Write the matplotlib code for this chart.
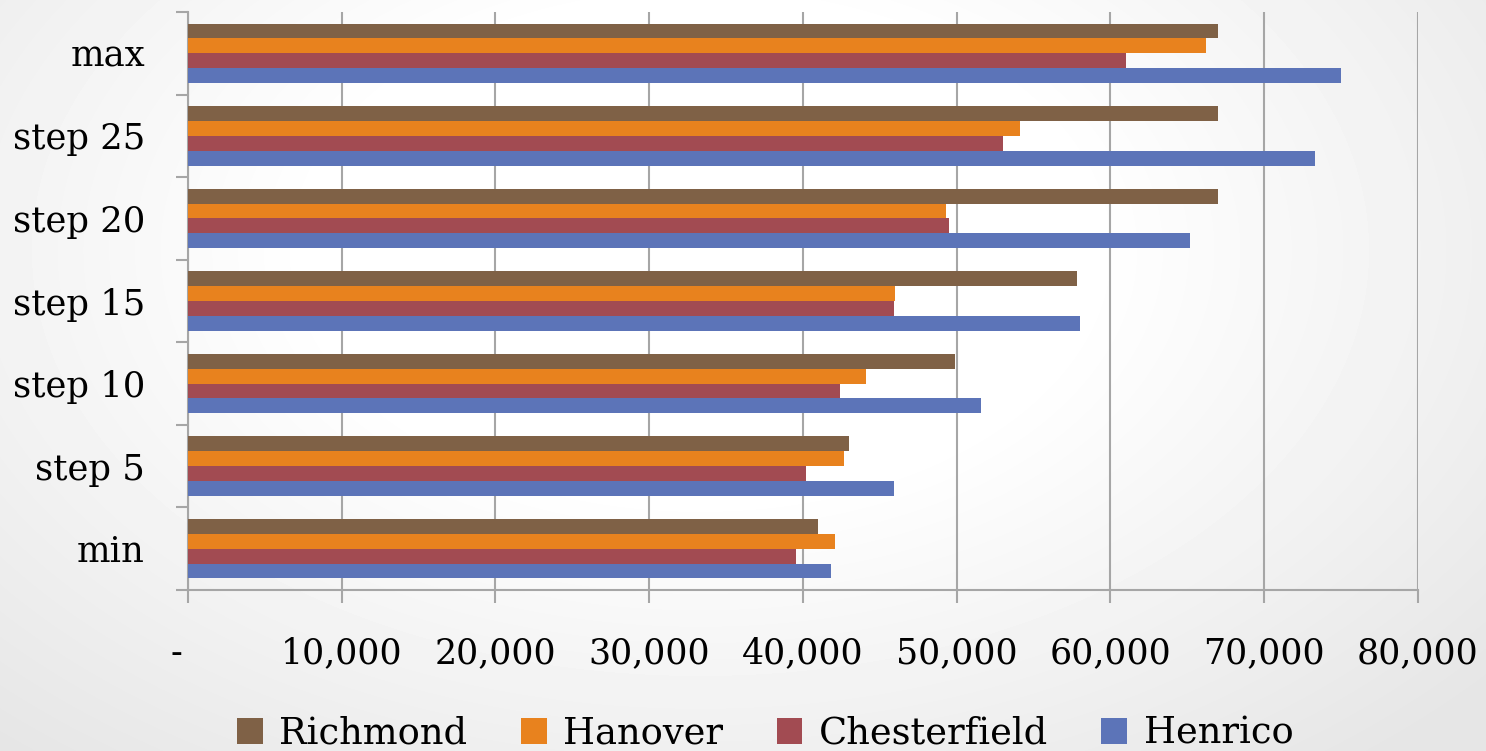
import numpy as np
import matplotlib
matplotlib.use('agg')
import matplotlib.pyplot as plt
from matplotlib.ticker import FixedLocator, FuncFormatter

categories = ['min', 'step 5', 'step 10', 'step 15', 'step 20', 'step 25', 'max']
richmond = [41000, 43000, 49900, 57800, 67000, 67000, 67000]
hanover = [42100, 42700, 44100, 46000, 49300, 54100, 66200]
chesterfield = [39550, 40200, 42400, 45900, 49500, 53000, 61000]
henrico = [41800, 45900, 51600, 58000, 65200, 73300, 75000]

series_names = ['Richmond', 'Hanover', 'Chesterfield', 'Henrico']
series_values = [richmond, hanover, chesterfield, henrico]
colors = ['#7f6146', '#e8821e', '#a24b52', '#5c74b8']

plt.rcParams['font.family'] = ['DejaVu Serif']

fig = plt.figure(figsize=(14.86, 7.51), dpi=100)

# soft radial background like the slide
bg = fig.add_axes([0, 0, 1, 1], zorder=-10)
yy, xx = np.mgrid[0:751, 0:1486]
r = np.sqrt(((xx - 700) / 1100.0) ** 2 + ((yy - 250) / 700.0) ** 2)
shade = 1.0 - 0.10 * np.clip(r - 0.35, 0, None) / 0.6
shade = np.clip(shade, 0.9, 1.0)
bg.imshow(shade, cmap='gray', vmin=0, vmax=1, aspect='auto', interpolation='bilinear')
bg.axis('off')

ax = fig.add_axes([0.1265, 0.2144, 0.8277, 0.7696])
ax.set_facecolor('none')

y = np.arange(len(categories))
bar_h = 0.18
offsets = [0.27, 0.09, -0.09, -0.27]
for name, vals, c, off in zip(series_names, series_values, colors, offsets):
    ax.barh(y + off, vals, height=bar_h, color=c, label=name, zorder=3)

ax.set_xlim(0, 80000)
ax.set_ylim(-0.5, len(categories) - 0.5)
ax.set_xticks(np.arange(0, 80001, 10000))
ax.xaxis.set_major_formatter(FuncFormatter(lambda v, p: '-  ' if v == 0 else f'{int(v):,}'))
ax.grid(axis='x', color='#a6a6a6', linewidth=1.5, zorder=0)

ax.set_yticks(y)
ax.set_yticklabels(categories)
ax.yaxis.set_minor_locator(FixedLocator(np.arange(-0.5, len(categories), 1.0)))
ax.tick_params(axis='y', which='major', length=0, pad=31, labelsize=25.5)
ax.tick_params(axis='y', which='minor', length=9, width=1.5, color='#a6a6a6')
ax.tick_params(axis='x', length=9, width=1.5, color='#a6a6a6', pad=24, labelsize=25)

for s in ['top', 'right']:
    ax.spines[s].set_visible(False)
for s in ['left', 'bottom']:
    ax.spines[s].set_color('#a6a6a6')
    ax.spines[s].set_linewidth(1.5)

fig.legend(loc='lower center', bbox_to_anchor=(0.515, -0.045), ncol=4, frameon=False,
           fontsize=26.5, handlelength=0.7, handleheight=0.7, handletextpad=0.45,
           columnspacing=1.45)

fig.savefig('out.png', dpi=100)
